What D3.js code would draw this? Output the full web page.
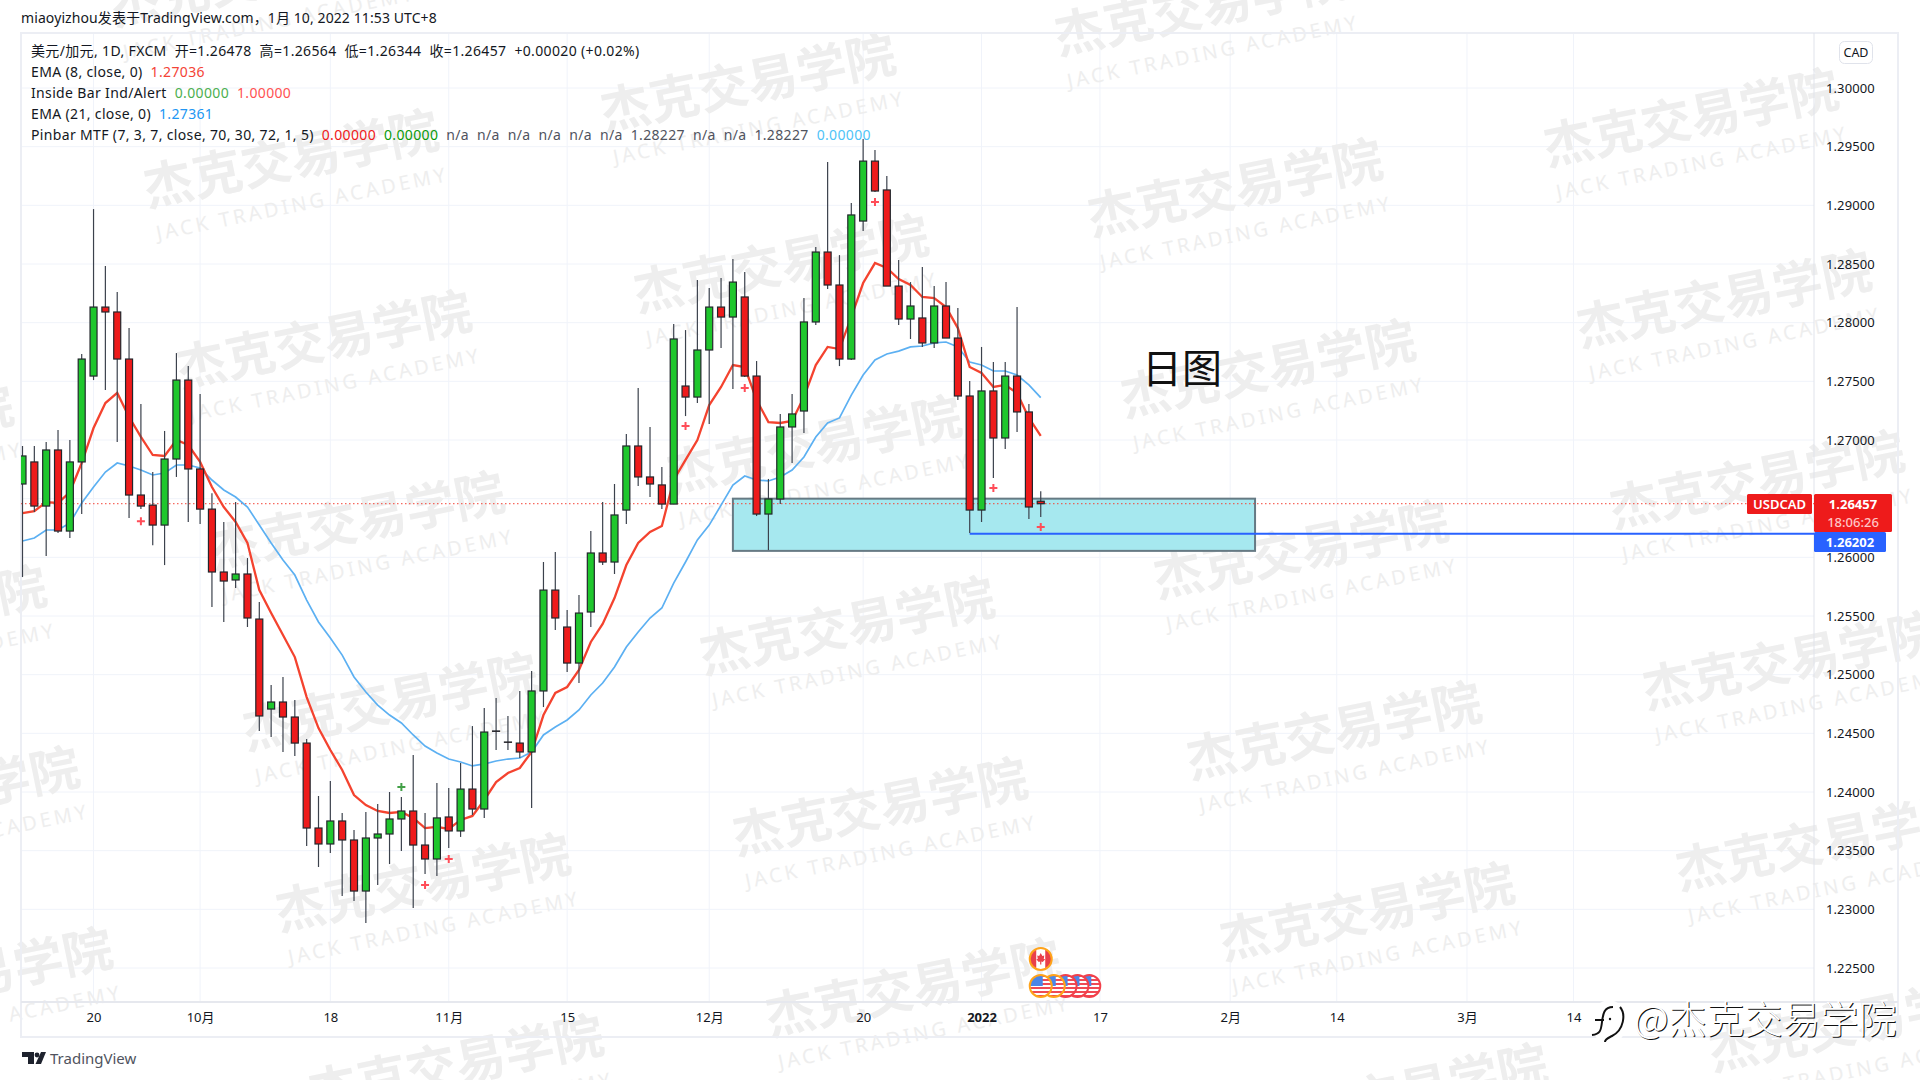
<!DOCTYPE html>
<html><head><meta charset="utf-8">
<script src="https://cdn.jsdelivr.net/npm/d3@7"></script>
<style>
html,body{margin:0;padding:0;background:#fff;overflow:hidden}
svg{display:block}
text{font-family:"Noto Sans","Noto Sans CJK SC",sans-serif}
</style></head><body>
<svg id="c" width="1920" height="1080"></svg>
<script>
const opens=[1.26625,1.26813,1.26437,1.26915,1.26224,1.26813,1.27545,1.28133,1.28091,1.27690,1.26531,1.26445,1.26275,1.26838,1.27511,1.26753,1.26411,1.25875,1.25807,1.25858,1.25474,1.24707,1.24767,1.24639,1.24417,1.23693,1.23557,1.23753,1.23591,1.23156,1.23608,1.23642,1.23770,1.23838,1.23548,1.23429,1.23787,1.23668,1.24025,1.23855,1.24520,1.24426,1.24417,1.24341,1.24861,1.25721,1.25406,1.25099,1.25534,1.26037,1.25960,1.26403,1.26949,1.26685,1.26617,1.26454,1.27460,1.27366,1.27767,1.28133,1.28048,1.28219,1.27545,1.26369,1.26497,1.27111,1.27247,1.28006,1.28602,1.28321,1.27690,1.28866,1.29377,1.29131,1.28312,1.28031,1.28040,1.27827,1.28142,1.27869,1.27375,1.26403,1.27418,1.27017,1.27545,1.27239,1.26478];
const highs=[1.26949,1.26949,1.26983,1.27085,1.27000,1.27733,1.28968,1.28483,1.28261,1.27954,1.27307,1.26727,1.27077,1.27741,1.27630,1.27392,1.26547,1.26301,1.26471,1.25994,1.25619,1.24912,1.24980,1.24784,1.24452,1.23966,1.24094,1.23821,1.23676,1.23830,1.23898,1.24000,1.23957,1.24315,1.23821,1.24077,1.24034,1.24247,1.24562,1.24716,1.24801,1.24648,1.24861,1.25031,1.25960,1.26045,1.25551,1.25679,1.26224,1.26471,1.26625,1.27051,1.27443,1.27111,1.26770,1.27989,1.27937,1.28364,1.28295,1.28381,1.28542,1.28432,1.27673,1.26668,1.27222,1.27392,1.28210,1.28645,1.29369,1.28576,1.29020,1.29565,1.29472,1.29250,1.28534,1.28346,1.28474,1.28312,1.28346,1.28125,1.27503,1.27793,1.27665,1.27665,1.28133,1.27307,1.26564];
const lows=[1.25832,1.26386,1.26011,1.26207,1.26164,1.26369,1.27511,1.27426,1.26983,1.26335,1.26411,1.26104,1.25934,1.26685,1.26301,1.26284,1.25576,1.25448,1.25739,1.25406,1.24520,1.24469,1.24341,1.24307,1.23540,1.23361,1.23480,1.23113,1.23071,1.22883,1.23207,1.23386,1.23497,1.23011,1.23301,1.23284,1.23523,1.23617,1.23804,1.23779,1.24358,1.24358,1.24290,1.23864,1.24724,1.25380,1.25023,1.24929,1.25406,1.25934,1.25858,1.26284,1.26608,1.26514,1.26411,1.26454,1.27204,1.27315,1.27136,1.27784,1.27435,1.27537,1.26352,1.26062,1.26454,1.26804,1.27060,1.27980,1.28287,1.27630,1.27682,1.28781,1.29114,1.28312,1.27980,1.27861,1.27793,1.27784,1.27869,1.27341,1.26207,1.26301,1.26676,1.26923,1.27068,1.26326,1.26344];
const closes=[1.26864,1.26437,1.26915,1.26224,1.26813,1.27690,1.28133,1.28091,1.27690,1.26531,1.26437,1.26275,1.26838,1.27511,1.26753,1.26411,1.25875,1.25798,1.25858,1.25483,1.24648,1.24767,1.24639,1.24417,1.23693,1.23557,1.23753,1.23591,1.23156,1.23608,1.23642,1.23770,1.23838,1.23548,1.23429,1.23779,1.23668,1.24025,1.23855,1.24511,1.24517,1.24424,1.24341,1.24861,1.25721,1.25483,1.25099,1.25525,1.26037,1.25960,1.26361,1.26949,1.26685,1.26625,1.26454,1.27861,1.27366,1.27767,1.28133,1.28048,1.28346,1.27545,1.26369,1.26497,1.27111,1.27222,1.28006,1.28602,1.28321,1.27690,1.28918,1.29377,1.29122,1.28312,1.28031,1.28142,1.27827,1.28142,1.27869,1.27375,1.26403,1.27418,1.27017,1.27545,1.27239,1.26429,1.26457];
const ema8=[1.26377,1.26394,1.26471,1.26463,1.26557,1.26804,1.27102,1.27315,1.27401,1.27196,1.27026,1.26872,1.26864,1.27000,1.26957,1.26813,1.26599,1.26429,1.26301,1.26122,1.25721,1.25525,1.25338,1.25150,1.24809,1.24545,1.24358,1.24188,1.23974,1.23889,1.23838,1.23821,1.23830,1.23779,1.23693,1.23702,1.23685,1.23762,1.23796,1.23932,1.24085,1.24162,1.24205,1.24341,1.24656,1.24844,1.24895,1.25040,1.25279,1.25432,1.25653,1.25934,1.26122,1.26216,1.26267,1.26659,1.26830,1.27000,1.27298,1.27452,1.27639,1.27622,1.27341,1.27153,1.27145,1.27162,1.27366,1.27639,1.27793,1.27775,1.28048,1.28338,1.28508,1.28466,1.28372,1.28321,1.28219,1.28210,1.28133,1.27954,1.27622,1.27571,1.27452,1.27469,1.27401,1.27188,1.27036];
const ema21=[1.26139,1.26165,1.26233,1.26233,1.26292,1.26463,1.26599,1.26727,1.26804,1.26778,1.26744,1.26702,1.26719,1.26787,1.26787,1.26762,1.26659,1.26574,1.26514,1.26429,1.26275,1.26122,1.25977,1.25849,1.25636,1.25449,1.25312,1.25167,1.24980,1.24852,1.24741,1.24656,1.24588,1.24486,1.24392,1.24332,1.24281,1.24256,1.24222,1.24239,1.24264,1.24281,1.24290,1.24341,1.24486,1.24554,1.24614,1.24699,1.24827,1.24929,1.25065,1.25236,1.25364,1.25483,1.25568,1.25781,1.25960,1.26148,1.26275,1.26445,1.26616,1.26693,1.26659,1.26651,1.26685,1.26744,1.26855,1.27026,1.27145,1.27188,1.27383,1.27554,1.27682,1.27733,1.27758,1.27793,1.27801,1.27827,1.27835,1.27793,1.27665,1.27639,1.27588,1.27588,1.27554,1.27469,1.27361];
const signalBars=[10,32,34,36,56,61,72,82,86];
const signalPrices=[1.26308,1.24042,1.23207,1.23429,1.27119,1.27443,1.29028,1.26591,1.26258];
const signalColors=["#ff4d58","#43a047","#ff4d58","#ff4d58","#ff4d58","#ff4d58","#ff4d58","#ff4d58","#ff4d58"];
const timeBars=[6,15,26,36,46,58,71,81,91,102,111,122,131];
const timeLabels=["20","10月","18","11月","15","12月","20","2022","17","2月","14","3月","14"];
const priceTicks=[1.225,1.23,1.235,1.24,1.245,1.25,1.255,1.26,1.265,1.27,1.275,1.28,1.285,1.29,1.295,1.30];
const lastPrice=1.26457, targetPrice=1.26202, targetStartBar=80;
const zoneBars=[60,104.1], zonePrices=[1.26500,1.26055];
const usFlagBars=[86,87.1,88.1,89.1,90.1];
const legendLines=[
 [["美元/加元, 1D, FXCM  开=1.26478  高=1.26564  低=1.26344  收=1.26457  +0.00020 (+0.02%)","#131722"]],
 [["EMA (8, close, 0)  ","#131722"],["1.27036","#f44336"]],
 [["Inside Bar Ind/Alert  ","#131722"],["0.00000","#4caf50"],["  ","#000"],["1.00000","#ff5252"]],
 [["EMA (21, close, 0)  ","#131722"],["1.27361","#2196f3"]],
 [["Pinbar MTF (7, 3, 7, close, 70, 30, 72, 1, 5)  ","#131722"],["0.00000","#f01818"],["  ","#000"],["0.00000","#0a9a0a"],["  n/a  n/a  n/a  n/a  n/a  n/a  1.28227  n/a  n/a  1.28227  ","#50535e"],["0.00000","#4fc3f7"]]
];

const svg=d3.select("#c");
const L=21,R=1814,T=33,B=1002;
const x=d3.scaleLinear().domain([0,150]).range([22.5,1798.5]);
const y=d3.scaleLinear().domain([1.225,1.30]).range([968,88]);
const defs=svg.append("defs");
defs.append("clipPath").attr("id","plot").append("rect").attr("x",L).attr("y",T).attr("width",R-L).attr("height",B-T);

// grid
const grid=svg.append("g");
grid.selectAll("line.v").data(timeBars).join("line").attr("x1",d=>x(d)).attr("x2",d=>x(d)).attr("y1",T).attr("y2",B).attr("stroke","#f0f3fa");
grid.selectAll("line.h").data(priceTicks).join("line").attr("class","h").attr("x1",L).attr("x2",R).attr("y1",d=>y(d)).attr("y2",d=>y(d)).attr("stroke","#f0f3fa");

// watermarks
const wm=svg.append("g");
const aShift={"-2":[-7,18],"-1":[-3,0],"0":[0,0],"1":[0,0],"2":[2,6]};
for(let a=-3;a<=3;a++)for(let b=-2;b<=7;b++){
  const s=aShift[a]||[0,0];
  const cx=748+a*454+b*33+s[0], cy=83-a*76+b*181+s[1];
  if(cx<-200||cx>2120||cy<-60||cy>1140)continue;
  const g=wm.append("g").attr("transform",`translate(${cx},${cy}) rotate(-11.5)`);
  g.append("text").attr("text-anchor","middle").attr("y",18).attr("font-size",50).attr("font-weight",700).attr("fill","#eeeeee").style("font-family",'"Noto Sans CJK SC"').text("杰克交易学院");
  g.append("text").attr("text-anchor","middle").attr("x",2).attr("y",53).attr("font-size",20).attr("letter-spacing",3.2).attr("fill","#eeeeee").text("JACK TRADING ACADEMY");
}

// frame
const fr=svg.append("g").attr("fill","none");
fr.append("rect").attr("x",L).attr("y",T).attr("width",1898-L).attr("height",1037-T).attr("stroke","#eceef4").attr("stroke-width",2);
fr.append("line").attr("x1",L).attr("x2",1898).attr("y1",B).attr("y2",B).attr("stroke","#e6e8ee").attr("stroke-width",2);
fr.append("line").attr("x1",R).attr("x2",R).attr("y1",T).attr("y2",1037).attr("stroke","#e0e3eb").attr("stroke-width",1);

const plot=svg.append("g").attr("clip-path","url(#plot)");
// zone
plot.append("rect").attr("x",x(zoneBars[0])).attr("y",y(zonePrices[0])).attr("width",x(zoneBars[1])-x(zoneBars[0])).attr("height",y(zonePrices[1])-y(zonePrices[0])).attr("fill","#a6e8ef").attr("stroke","#667a84").attr("stroke-width",2);
// last price dotted
plot.append("line").attr("x1",L).attr("x2",R).attr("y1",y(lastPrice)).attr("y2",y(lastPrice)).attr("stroke","#f44336").attr("stroke-width",1).attr("stroke-dasharray","1.5 2.5");
// EMA
const line=d3.line().x((d,i)=>x(i)).y(d=>y(d));
plot.append("path").datum(ema21).attr("d",line).attr("fill","none").attr("stroke","#5cb0f2").attr("stroke-width",1.7);
plot.append("path").datum(ema8).attr("d",line).attr("fill","none").attr("stroke","#f4432f").attr("stroke-width",2.3);
// target line
plot.append("path").attr("d",`M${x(targetStartBar)},${y(targetPrice)}H${R}`).attr("stroke","#2962ff").attr("stroke-width",2).attr("fill","none");
// candles
const idx=d3.range(opens.length);
plot.selectAll("line.w").data(idx).join("line").attr("class","w").attr("x1",i=>x(i)).attr("x2",i=>x(i)).attr("y1",i=>y(highs[i])).attr("y2",i=>y(lows[i])).attr("stroke","#3c424d").attr("stroke-width",1.2);
plot.selectAll("rect.b").data(idx).join("rect").attr("class","b")
 .attr("x",i=>x(i)-3.5).attr("width",7)
 .attr("y",i=>y(Math.max(opens[i],closes[i])))
 .attr("height",i=>Math.max(0.3,Math.abs(y(opens[i])-y(closes[i]))))
 .attr("fill",i=>closes[i]>opens[i]?"#1fc72d":"#ee1b1b")
 .attr("stroke",i=>"#22262c").attr("stroke-width",1.2);
// signals
svg.append("g").selectAll("path").data(signalBars).join("path")
 .attr("d","M-1,-4H1V-1H4V1H1V4H-1V1H-4V-1H-1Z")
 .attr("transform",(d,i)=>`translate(${x(d)},${y(signalPrices[i])})`)
 .attr("fill",(d,i)=>signalColors[i]);

// axes
const ya=d3.axisRight(y).tickValues(priceTicks).tickFormat(d3.format(".5f")).tickSize(0).tickPadding(0);
const yg=svg.append("g").attr("transform",`translate(1826,0)`).call(ya);
yg.select(".domain").remove();
yg.selectAll("text").attr("font-size",13).attr("fill","#131722").attr("letter-spacing",.1);
const xa=d3.axisBottom(x).tickValues(timeBars).tickFormat((d,i)=>timeLabels[i]).tickSize(0).tickPadding(0);
const xg=svg.append("g").attr("transform",`translate(0,1013)`).call(xa);
xg.select(".domain").remove();
xg.selectAll("text").attr("font-size",13).attr("fill","#131722").style("font-weight",(d,i)=>timeLabels[i]==="2022"?700:400);

// legend
const lg=svg.append("g");
legendLines.forEach((spans,i)=>{
  const t=lg.append("text").attr("x",31).attr("y",56+i*21).attr("font-size",14).attr("letter-spacing",.35).style("white-space","pre");
  spans.forEach(s=>t.append("tspan").attr("fill",s[1]).text(s[0]));
});
svg.append("text").attr("x",21).attr("y",23).attr("font-size",14).attr("letter-spacing",.1).attr("fill","#131722").text("miaoyizhou发表于TradingView.com，1月 10, 2022 11:53 UTC+8");

// CAD button
svg.append("rect").attr("x",1839.5).attr("y",41.5).attr("width",33).attr("height",22).attr("rx",5).attr("fill","#fff").attr("stroke","#e0e3eb");
svg.append("text").attr("x",1856).attr("y",57).attr("text-anchor","middle").attr("font-size",12.5).attr("fill","#131722").text("CAD");

// price labels
function box(x0,y0,w,h,c){svg.append("rect").attr("x",x0).attr("y",y0).attr("width",w).attr("height",h).attr("rx",1.5).attr("fill",c);}
box(1747,494,65,20,"#ee1b1b");
box(1814,494,78,38,"#ee1b1b");
box(1814,532,72,20,"#2962ff");
const lbl=(tx,ty,s,c,w)=>svg.append("text").attr("x",tx).attr("y",ty).attr("text-anchor","middle").attr("font-size",13).attr("font-weight",w).attr("fill",c).text(s);
lbl(1779.5,509,"USDCAD","#fff",600);
lbl(1853,509,d3.format(".5f")(lastPrice),"#fff",700);
lbl(1853,527,"18:06:26","#ffc6c6",500);
lbl(1850,547,d3.format(".5f")(targetPrice),"#fff",700);

// 日图
svg.append("text").attr("x",1182).attr("y",383).attr("text-anchor","middle").attr("font-size",40).attr("fill","#111").style("font-family",'"Noto Sans CJK SC"').text("日图");

// flags
function flag(cx,cy,stroke,kind,id){
  const g=svg.append("g").attr("transform",`translate(${cx},${cy})`);
  defs.append("clipPath").attr("id",id).append("circle").attr("r",11);
  g.append("circle").attr("r",11).attr("fill","#fff");
  const f=g.append("g").attr("clip-path",`url(#${id})`);
  if(kind==="ca"){
    f.append("rect").attr("x",-11).attr("y",-11).attr("width",6.5).attr("height",22).attr("fill","#e9404a");
    f.append("rect").attr("x",4.5).attr("y",-11).attr("width",6.5).attr("height",22).attr("fill","#e9404a");
    f.append("path").attr("d","M0,-6L1.6,-3L3.5,-3.6L3,0L4.5,0.2L2,3L.6,2.6V5.5H-.6V2.6L-2,3L-4.5,.2L-3,0L-3.5,-3.6L-1.6,-3Z").attr("fill","#e9404a");
  }else{
    d3.range(-11,11,4).forEach(v=>f.append("rect").attr("x",-11).attr("y",v).attr("width",22).attr("height",2).attr("fill","#ef4a55"));
    f.append("rect").attr("x",-11).attr("y",-11).attr("width",13).attr("height",11).attr("fill","#4a86e8");
  }
  g.append("circle").attr("r",11).attr("fill","none").attr("stroke",stroke).attr("stroke-width",2);
}
usFlagBars.slice().reverse().forEach((b,i)=>flag(x(b),986,(4-i)<2?"#ffa31a":"#f2404a","us","f"+i));
flag(x(86),959,"#ffa31a","ca","fca");

// TradingView logo
const tv=svg.append("g").attr("fill","#1e222d");
tv.append("path").attr("d","M22,1052H34V1064H28V1057H22Z");
tv.append("circle").attr("cx",37).attr("cy",1055).attr("r",2.4);
tv.append("path").attr("d","M41,1052H46L41,1064H35.5Z");
svg.append("text").attr("x",50).attr("y",1064).attr("font-size",15).attr("fill","#50535e").text("TradingView");

// corner logo
const wb=svg.append("g").attr("fill","none");
wb.append("ellipse").attr("cx",1609).attr("cy",1022).attr("rx",18).attr("ry",22).attr("fill","#fff").attr("opacity",.9);
wb.append("path").attr("d","M1613,1007C1604,1007 1603,1014 1602,1022C1601,1031 1600,1034 1592,1035M1595,1020H1604").attr("stroke","#111").attr("stroke-width",2);
wb.append("path").attr("d","M1620,1007C1626,1014 1624,1030 1612,1036C1608,1038 1605,1039 1605,1042").attr("stroke","#111").attr("stroke-width",2);
wb.append("circle").attr("cx",1610).attr("cy",1019).attr("r",1.2).attr("fill","#111");
const at=(dx,dy,c)=>svg.append("text").attr("x",1634+dx).attr("y",1033+dy).attr("font-size",38).attr("fill",c).style("font-family",'"Noto Sans CJK SC"').style("font-weight",300).text("@杰克交易学院");
at(1,1,"#111");at(0,0,"#fff");
</script>
</body></html>
